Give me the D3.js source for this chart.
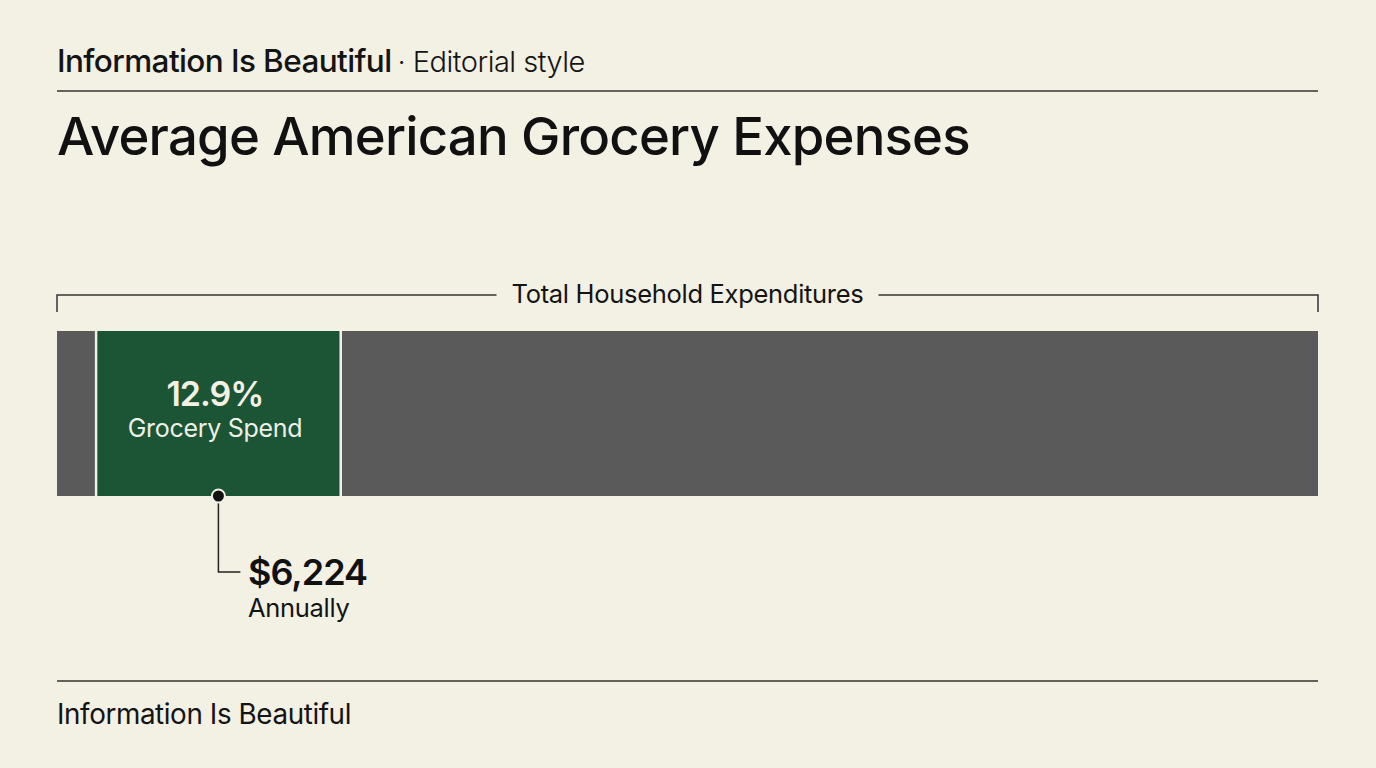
<!DOCTYPE html>
<html><head><meta charset="utf-8">
<script src="https://cdn.jsdelivr.net/npm/d3@7"></script>
<style>
html,body{margin:0;padding:0;background:#f3f0e4;}
svg{display:block;font-family:Inter,"Noto Sans",sans-serif;}
</style></head>
<body>
<svg id="c" width="1376" height="768"></svg>
<script>
const segmentNames = ["Other (before)", "Grocery Spend", "Other"];
const segmentShares = [3.1, 19.4, 77.5];
const segmentColors = ["#5a5a5a", "#1b5535", "#5a5a5a"];
const groceryPct = "12.9%";
const groceryLabel = "Grocery Spend";
const annualValue = "$6,224";
const annualLabel = "Annually";
const bracketLabel = "Total Household Expenditures";

const svg = d3.select("#c");
const W = 1376, H = 768, L = 57, R = 1318;
svg.append("rect").attr("width", W).attr("height", H).attr("fill", "#f3f0e4");

// header
const hdr = svg.append("text").attr("x", L).attr("y", 72).attr("fill", "#141414");
hdr.append("tspan").attr("font-size", 31.5).attr("font-weight", 500).attr("letter-spacing", -0.6).text("Information Is Beautiful");
hdr.append("tspan").attr("font-size", 29).attr("font-weight", 300).attr("dx", 6).attr("letter-spacing", -0.5).text("· Editorial style");
svg.append("line").attr("x1", L).attr("x2", R).attr("y1", 91).attr("y2", 91).attr("stroke", "#333").attr("stroke-width", 1.5);

svg.append("text").attr("x", L).attr("y", 155).attr("font-size", 52.7).attr("font-weight", 500)
  .attr("letter-spacing", -0.8).attr("fill", "#111").text("Average American Grocery Expenses");

// scale
const total = d3.sum(segmentShares);
const x = d3.scaleLinear().domain([0, total]).range([L, R]);
const starts = d3.cumsum([0, ...segmentShares]).slice(0, segmentShares.length);
const segs = segmentNames.map((n, i) => ({name: n, v: segmentShares[i], s: starts[i], color: segmentColors[i]}));

// bracket
const bY = 295, bTick = 312;
const cx = 687.5;
const bt = svg.append("text").attr("x", cx).attr("y", 303).attr("text-anchor", "middle")
  .attr("font-size", 25.5).attr("fill", "#141414").attr("letter-spacing", -0.3).text(bracketLabel);
const tw = bt.node().getComputedTextLength();
svg.append("path").attr("fill", "none").attr("stroke", "#333").attr("stroke-width", 1.5)
  .attr("d", `M${L},${bTick}V${bY}H${cx - tw / 2 - 15}M${cx + tw / 2 + 15},${bY}H${R}V${bTick}`);

// bar
const y0 = 331, y1 = 496;
svg.selectAll("rect.seg").data(segs).join("rect").attr("class", "seg")
  .attr("x", d => x(d.s)).attr("width", d => x(d.s + d.v) - x(d.s))
  .attr("y", y0).attr("height", y1 - y0).attr("fill", d => d.color);
svg.selectAll("line.sep").data(segs.slice(1)).join("line").attr("class", "sep")
  .attr("x1", d => x(d.s)).attr("x2", d => x(d.s)).attr("y1", y0).attr("y2", y1)
  .attr("stroke", "#f3f0e4").attr("stroke-width", 2.5);

const g = segs[1];
const gx = x(g.s + g.v / 2);
svg.append("text").attr("x", gx - 3.5).attr("y", 406).attr("text-anchor", "middle").attr("font-size", 34)
  .attr("font-weight", 600).attr("fill", "#f3f0e4").attr("letter-spacing", -1).text(groceryPct);
svg.append("text").attr("x", gx - 3.5).attr("y", 437).attr("text-anchor", "middle").attr("font-size", 25)
  .attr("fill", "#eef0e6").attr("letter-spacing", -0.3).text(groceryLabel);

// callout
svg.append("path").attr("fill", "none").attr("stroke", "#222").attr("stroke-width", 1.5)
  .attr("d", `M${gx},${y1}V572H${gx + 22}`);
svg.append("circle").attr("cx", gx).attr("cy", y1).attr("r", 6.5).attr("fill", "#111")
  .attr("stroke", "#f3f0e4").attr("stroke-width", 2);
svg.append("text").attr("x", 248).attr("y", 585).attr("font-size", 36).attr("font-weight", 600)
  .attr("fill", "#111").attr("letter-spacing", -1).text(annualValue);
svg.append("text").attr("x", 248).attr("y", 617).attr("font-size", 25.5).attr("fill", "#141414")
  .attr("letter-spacing", -0.3).text(annualLabel);

// footer
svg.append("line").attr("x1", L).attr("x2", R).attr("y1", 681).attr("y2", 681).attr("stroke", "#333").attr("stroke-width", 1.5);
svg.append("text").attr("x", L).attr("y", 724).attr("font-size", 27.8).attr("fill", "#141414")
  .attr("letter-spacing", -0.4).text("Information Is Beautiful");
</script>
</body></html>
